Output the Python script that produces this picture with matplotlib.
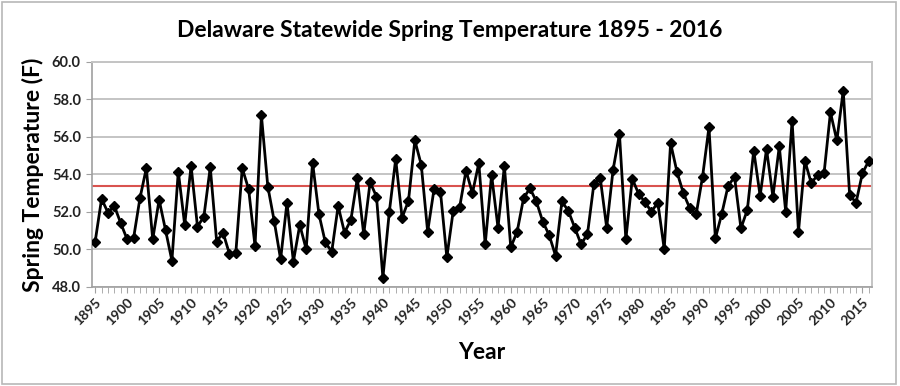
import matplotlib
matplotlib.use("Agg")
import matplotlib.pyplot as plt
from matplotlib.patches import Rectangle
from matplotlib.ticker import MultipleLocator
import numpy as np

years = list(range(1895, 2017))
temps = [
    50.41, 52.69, 51.96, 52.31, 51.39, 50.53, 50.58, 52.72, 54.33, 50.53,  # 1895-1904
    52.64, 51.03, 49.39, 54.15, 51.30, 54.45, 51.21, 51.74, 54.38, 50.41,  # 1905-1914
    50.89, 49.75, 49.82, 54.33, 53.21, 50.17, 57.15, 53.35, 51.51, 49.46,  # 1915-1924
    52.49, 49.34, 51.30, 50.00, 54.63, 51.87, 50.36, 49.87, 52.31, 50.89,  # 1925-1934
    51.57, 53.79, 50.80, 53.58, 52.81, 48.48, 51.98, 54.81, 51.69, 52.58,  # 1935-1944
    55.81, 54.51, 50.94, 53.21, 53.08, 49.57, 52.05, 52.24, 54.20, 52.99,  # 1945-1954
    54.60, 50.26, 53.97, 51.16, 54.45, 50.10, 50.94, 52.72, 53.26, 52.55,  # 1955-1964
    51.48, 50.76, 49.66, 52.55, 52.05, 51.16, 50.26, 50.82, 53.49, 53.79,  # 1965-1974
    51.16, 54.24, 56.15, 50.53, 53.76, 52.96, 52.51, 52.01, 52.49, 50.01,  # 1975-1984
    55.67, 54.12, 52.99, 52.19, 51.87, 53.88, 56.52, 50.58, 51.89, 53.40,  # 1985-1994
    53.85, 51.12, 52.10, 55.27, 52.85, 55.35, 52.81, 55.49, 52.01, 56.86,  # 1995-2004
    50.94, 54.72, 53.53, 53.97, 54.06, 57.31, 55.81, 58.47, 52.90, 52.49,  # 2005-2014
    54.06, 54.72,                                                          # 2015-2016
]
mean_temp = 53.4
xtick_years = list(range(1895, 2016, 5))
ytick_vals = [48.0, 50.0, 52.0, 54.0, 56.0, 58.0, 60.0]

title = "Delaware Statewide Spring Temperature 1895 - 2016"
xlabel = "Year"
ylabel = "Spring Temperature (F)"

plt.rcParams['font.family'] = ['Lato', 'DejaVu Sans']

fig = plt.figure(figsize=(9, 3.86), dpi=100)
ax = fig.add_axes([0.1022, 0.2573, 0.8667, 0.5821])

# outer border
fig.patches.append(Rectangle((0.002, 0.004), 0.994, 0.99, transform=fig.transFigure,
                             fill=False, edgecolor='#b8b8b8', lw=1.2))

ax.set_xlim(1894.5, 2016.5)
ax.set_ylim(48, 60)

for v in ytick_vals:
    ax.axhline(v, color='#c4c4c4', lw=1.4, zorder=0)

ax.axhline(mean_temp, color='#d9534f', lw=1.5, zorder=1)

ax.plot(years, temps, color='black', lw=2.0, marker='D', markersize=5,
        markerfacecolor='black', markeredgecolor='black', zorder=3)

ax.set_yticks(ytick_vals)
ax.set_yticklabels([f"{v:.1f}" for v in ytick_vals], fontsize=10.5, fontweight='bold', color='#222222')
ax.set_xticks(xtick_years)
ax.set_xticklabels([str(y) for y in xtick_years], rotation=45, ha='right',
                   rotation_mode='anchor', fontsize=10, fontweight='bold', color='#222222')
ax.xaxis.set_minor_locator(MultipleLocator(1))
ax.tick_params(axis='x', which='both', direction='out', length=4, color='#a0a0a0', pad=3)
ax.tick_params(axis='y', direction='out', length=4, color='#a0a0a0', pad=4)

for side in ['top', 'right']:
    ax.spines[side].set_visible(True)
    ax.spines[side].set_color('#c4c4c4')
    ax.spines[side].set_linewidth(1.4)
for side in ['left', 'bottom']:
    ax.spines[side].set_color('#a0a0a0')
    ax.spines[side].set_linewidth(1.2)

ax.set_xlabel(xlabel, fontsize=16.5, fontweight='bold', labelpad=10)
ax.set_ylabel(ylabel, fontsize=16.5, fontweight='bold', labelpad=6)
fig.text(0.5, 0.922, title, ha='center', va='center', fontsize=16.5, fontweight='bold')

fig.savefig("out.png", dpi=100)
